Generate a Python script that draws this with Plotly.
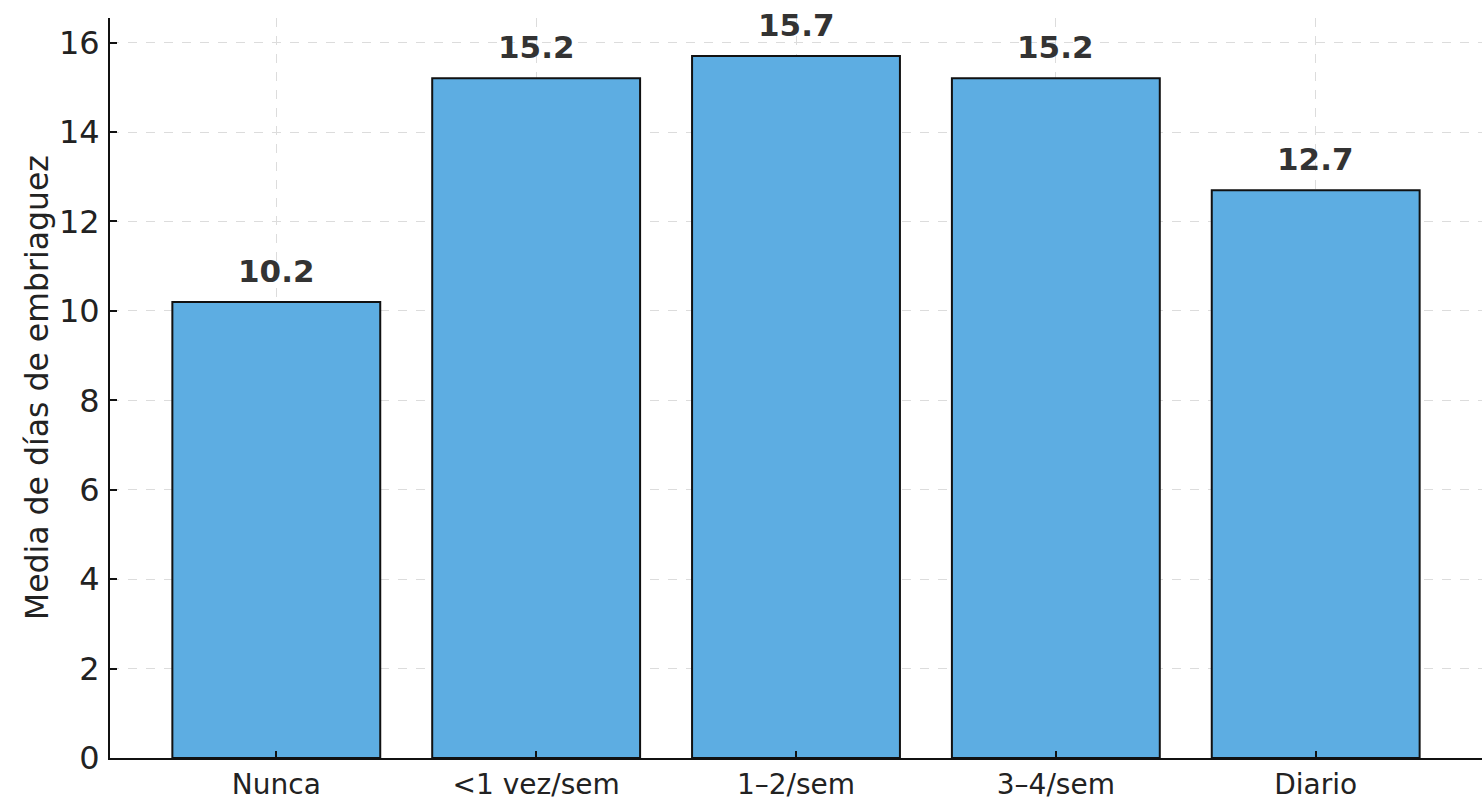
import plotly.graph_objects as go

# Frecuencia de consumo vs. media de días de embriaguez
categorias = ["Nunca", "<1 vez/sem", "1–2/sem", "3–4/sem", "Diario"]
media_dias = [10.2, 15.2, 15.7, 15.2, 12.7]
etiquetas = [f"{v:.1f}" for v in media_dias]

W, H = 1482, 801
ML, MR, MT, MB = 110, 0, 18, 38
FONT = "DejaVu Sans"

fig = go.Figure(
    go.Bar(
        x=list(range(len(categorias))),
        y=media_dias,
        width=0.8,
        marker=dict(color="#5DADE2", line=dict(color="#111111", width=2)),
        hoverinfo="skip",
    )
)

# Etiquetas de valor sobre cada barra
for i, (v, t) in enumerate(zip(media_dias, etiquetas)):
    fig.add_annotation(
        x=i, y=v, text=f"<b>{t}</b>", showarrow=False,
        xanchor="center", yanchor="bottom", yshift=11,
        font=dict(family=FONT, size=31, color="#333333"),
    )

# Título del eje Y
plot_w = W - ML - MR
fig.add_annotation(
    xref="paper", yref="paper", x=(37 - ML) / plot_w, y=0.5,
    text="Media de días de embriaguez", textangle=-90, showarrow=False,
    xanchor="center", yanchor="middle",
    font=dict(family=FONT, size=31.5, color="#222222"),
)

fig.update_layout(
    width=W, height=H,
    margin=dict(l=ML, r=MR, t=MT, b=MB, pad=0),
    paper_bgcolor="white", plot_bgcolor="white",
    showlegend=False,
    font=dict(family=FONT, color="#222222"),
)

fig.update_xaxes(
    tickmode="array", tickvals=list(range(len(categorias))), ticktext=categorias,
    range=[-0.64, 4.64],
    showline=True, linecolor="#111111", linewidth=2,
    ticks="inside", ticklen=7, tickwidth=1.5, tickcolor="#111111",
    tickfont=dict(family=FONT, size=28, color="#222222"),
    showgrid=True, gridcolor="#dcdcdc", griddash="dash", gridwidth=1,
    zeroline=False,
)
fig.update_yaxes(
    range=[0, 16.55], dtick=2, tick0=0,
    showline=True, linecolor="#111111", linewidth=2,
    ticks="inside", ticklen=7, tickwidth=1.5, tickcolor="#111111",
    tickfont=dict(family=FONT, size=32, color="#222222"),
    ticklabelstandoff=2,
    showgrid=True, gridcolor="#dcdcdc", griddash="dash", gridwidth=1,
    zeroline=False,
)

fig.write_html("out.html")
